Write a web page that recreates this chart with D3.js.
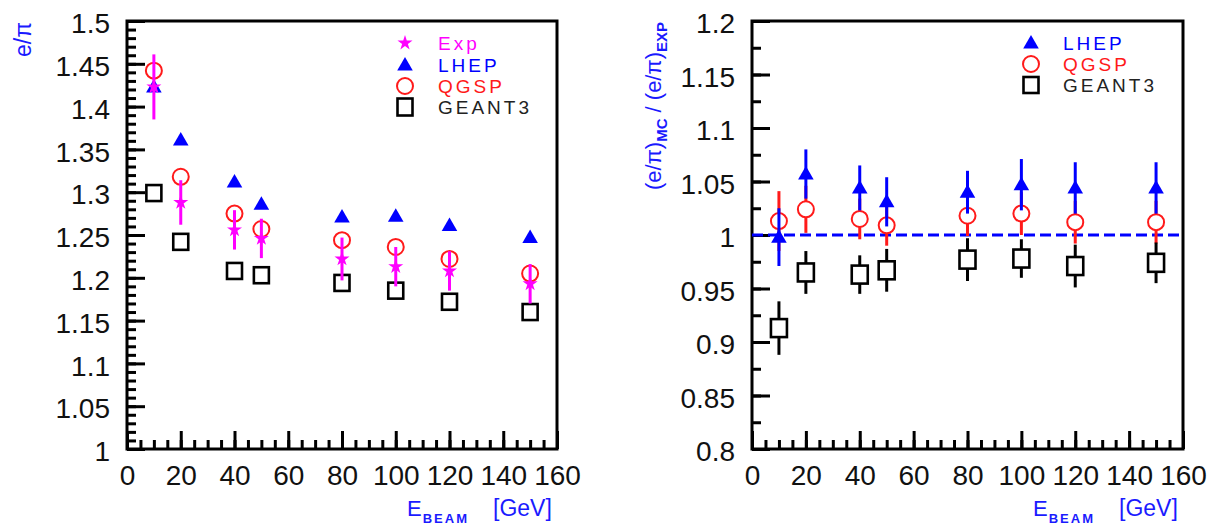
<!DOCTYPE html>
<html>
<head>
<meta charset="utf-8">
<script src="https://cdn.jsdelivr.net/npm/d3@7"></script>
<style>
  html, body { margin: 0; padding: 0; background: #fff; }
  svg { display: block; font-family: "Liberation Sans", Arial, Helvetica, sans-serif; }
</style>
</head>
<body>
<svg id="chart" width="1207" height="526"></svg>
<script>
// ---------------- data ----------------
const energies = [10, 20, 40, 50, 80, 100, 120, 150];

// left panel: e/pi
const expVals  = [1.423, 1.288, 1.256, 1.246, 1.222, 1.213, 1.208, 1.193];
const expErr   = [0.038, 0.026, 0.023, 0.023, 0.025, 0.023, 0.023, 0.023];
const lhepVals = [1.423, 1.361, 1.312, 1.286, 1.271, 1.272, 1.261, 1.247];
const qgspVals = [1.442, 1.318, 1.275, 1.257, 1.244, 1.236, 1.222, 1.205];
const g3Vals   = [1.299, 1.242, 1.208, 1.203, 1.194, 1.185, 1.172, 1.160];

// right panel: (e/pi)_MC / (e/pi)_EXP
const lhepRatio    = [0.998, 1.057, 1.044, 1.031, 1.040, 1.047, 1.044, 1.044];
const lhepRatioErr = [0.027, 0.023, 0.021, 0.023, 0.020, 0.024, 0.024, 0.024];
const qgspRatio    = [1.013, 1.024, 1.015, 1.009, 1.018, 1.020, 1.012, 1.012];
const qgspRatioErr = [0.028, 0.022, 0.019, 0.019, 0.019, 0.020, 0.020, 0.020];
const g3Ratio      = [0.913, 0.965, 0.963, 0.967, 0.977, 0.978, 0.971, 0.974];
const g3RatioErr   = [0.025, 0.020, 0.018, 0.020, 0.020, 0.018, 0.020, 0.019];

// ticks
const xTicks      = [0, 20, 40, 60, 80, 100, 120, 140, 160];
const yTicksLeft  = [1, 1.05, 1.1, 1.15, 1.2, 1.25, 1.3, 1.35, 1.4, 1.45, 1.5];
const yTicksRight = [0.8, 0.85, 0.9, 0.95, 1, 1.05, 1.1, 1.15, 1.2];

const legendLeft  = ["Exp", "LHEP", "QGSP", "GEANT3"];
const legendRight = ["LHEP", "QGSP", "GEANT3"];

// ---------------- style ----------------
const C = { exp: "#ff00ff", lhep: "#0000ff", qgsp: "#ff1a1a", g3: "#000000", label: "#1a1aff", text: "#111" };
const svg = d3.select("#chart");
const fmt = d => String(+d.toFixed(3));

function zip(xs, ys, es) { return xs.map((x, i) => ({ x, y: ys[i], e: es ? es[i] : 0 })); }

function drawFrame(x, y, yTicks, yMinor) {
  const [x0, x1] = x.range();
  const [y0, y1] = y.range();
  const g = svg.append("g");

  g.append("g").attr("transform", `translate(${x0},0)`)
    .call(d3.axisLeft(y).tickValues(yMinor).tickSize(-9).tickFormat(""));
  g.append("g").attr("class", "yMaj").attr("transform", `translate(${x0},0)`)
    .call(d3.axisLeft(y).tickValues(yTicks).tickSize(-18).tickPadding(17).tickFormat(fmt));
  g.append("g").attr("transform", `translate(0,${y0})`)
    .call(d3.axisBottom(x).tickValues(d3.range(0, 161, 5)).tickSize(-9).tickFormat(""));
  g.append("g").attr("transform", `translate(0,${y0})`)
    .call(d3.axisBottom(x).tickValues(xTicks).tickSize(-18).tickPadding(16).tickFormat(fmt));

  g.selectAll(".domain").remove();
  g.selectAll(".tick line").attr("stroke", "#000").attr("stroke-width", 3);
  g.selectAll(".tick text").attr("fill", C.text).style("font-size", "28px");
  g.selectAll(".yMaj .tick text").attr("dy", "0.42em");

  g.append("rect").attr("x", x0).attr("y", y1).attr("width", x1 - x0).attr("height", y0 - y1)
    .attr("fill", "none").attr("stroke", "#000").attr("stroke-width", 3);
  return g;
}

function drawXLabel(x) {
  const xr = x.range()[1];
  const t = svg.append("text").attr("x", xr - 150).attr("y", 516).attr("fill", C.label).style("font-size", "22px");
  t.append("tspan").text("E");
  t.append("tspan").attr("dy", 7).attr("dx", 1).style("font-size", "13px").style("font-weight", "bold")
    .style("letter-spacing", "2px").text("BEAM");
  t.append("tspan").attr("dy", -7).attr("x", xr - 64).style("font-size", "23px").text("[GeV]");
}

const starSym = d3.symbol().type(d3.symbolStar).size(70);
const triSym  = d3.symbol().type(d3.symbolTriangle).size(105);

function markers(g, data, x, y, kind, opt = {}) {
  const sel = g.selectAll(null).data(data).enter();
  if (kind === "star") {
    sel.append("path").attr("d", starSym).attr("fill", C.exp)
      .attr("transform", d => `translate(${x(d.x)},${y(d.y)})`);
  } else if (kind === "tri") {
    sel.append("path").attr("d", triSym).attr("fill", C.lhep)
      .attr("transform", d => `translate(${x(d.x)},${y(d.y) + 1})`);
  } else if (kind === "circ") {
    sel.append("circle").attr("cx", d => x(d.x)).attr("cy", d => y(d.y)).attr("r", 8)
      .attr("fill", "none").attr("stroke", C.qgsp).attr("stroke-width", 2);
  } else if (kind === "sq") {
    const w = opt.w || 15, h = opt.h || 17;
    sel.append("rect").attr("x", d => x(d.x) - w / 2).attr("y", d => y(d.y) - h / 2)
      .attr("width", w).attr("height", h)
      .attr("fill", "none").attr("stroke", C.g3).attr("stroke-width", 2.6);
  }
}

function errBars(g, data, x, y, color, gap) {
  const sel = g.selectAll(null).data(data).enter();
  sel.append("line").attr("x1", d => x(d.x)).attr("x2", d => x(d.x))
    .attr("y1", d => y(d.y + d.e)).attr("y2", d => Math.max(y(d.y + d.e), y(d.y) - gap))
    .attr("stroke", color).attr("stroke-width", 3);
  sel.append("line").attr("x1", d => x(d.x)).attr("x2", d => x(d.x))
    .attr("y1", d => Math.min(y(d.y - d.e), y(d.y) + gap)).attr("y2", d => y(d.y - d.e))
    .attr("stroke", color).attr("stroke-width", 3);
}

// ---------------- left panel ----------------
const xL = d3.scaleLinear().domain([0, 160]).range([127, 557]);
const yL = d3.scaleLinear().domain([1, 1.5]).range([449, 21]);
drawFrame(xL, yL, yTicksLeft, d3.range(1, 1.5001, 0.01));
drawXLabel(xL);

svg.append("text").attr("transform", "translate(31,57) rotate(-90)")
  .attr("fill", C.label).style("font-size", "23px").text("e/π");

const gL = svg.append("g");
markers(gL, zip(energies, lhepVals), xL, yL, "tri");
markers(gL, zip(energies, qgspVals), xL, yL, "circ");
markers(gL, zip(energies, g3Vals), xL, yL, "sq", { w: 15, h: 16 });
errBars(gL, zip(energies, expVals, expErr), xL, yL, C.exp, 0);
markers(gL, zip(energies, expVals), xL, yL, "star");

// left legend
const legL = svg.append("g");
const legColorsL = [C.exp, C.lhep, C.qgsp, "#222"];
const legKindsL = ["star", "tri", "circ", "sq"];
const legYL = [43, 65, 86, 107];
legendLeft.forEach((name, i) => {
  const fx = d3.scaleLinear().domain([0, 1]).range([405, 406]);
  const fy = d3.scaleLinear().domain([0, 1]).range([legYL[i], legYL[i] + 1]);
  markers(legL, [{ x: 0, y: 0 }], fx, fy, legKindsL[i], { w: 15, h: 17 });
  legL.append("text").attr("x", 438).attr("y", legYL[i]).attr("dy", "0.36em")
    .attr("fill", legColorsL[i]).style("font-size", "19px").style("letter-spacing", "3px").text(name);
});

// ---------------- right panel ----------------
const xR = d3.scaleLinear().domain([0, 160]).range([752, 1183]);
const yR = d3.scaleLinear().domain([0.8, 1.2]).range([449, 21]);
drawFrame(xR, yR, yTicksRight, d3.range(0.8, 1.2001, 0.025));
drawXLabel(xR);

const yl = svg.append("text").attr("transform", "translate(661,22) rotate(-90)")
  .attr("text-anchor", "end").attr("fill", C.label).style("font-size", "22px");
yl.append("tspan").text("(e/π)");
yl.append("tspan").attr("dy", 6).style("font-size", "15px").style("font-weight", "bold").text("MC");
yl.append("tspan").attr("dy", -6).text(" / (e/π)");
yl.append("tspan").attr("dy", 6).style("font-size", "15px").style("font-weight", "bold").text("EXP");

svg.append("line").attr("x1", xR(0)).attr("x2", xR(160)).attr("y1", yR(1)).attr("y2", yR(1))
  .attr("stroke", C.lhep).attr("stroke-width", 3).attr("stroke-dasharray", "11,5");

const gR = svg.append("g");
errBars(gR, zip(energies, qgspRatio, qgspRatioErr), xR, yR, C.qgsp, 8);
markers(gR, zip(energies, qgspRatio), xR, yR, "circ");
errBars(gR, zip(energies, lhepRatio, lhepRatioErr), xR, yR, C.lhep, 0);
markers(gR, zip(energies, lhepRatio), xR, yR, "tri");
errBars(gR, zip(energies, g3Ratio, g3RatioErr), xR, yR, C.g3, 9);
markers(gR, zip(energies, g3Ratio), xR, yR, "sq", { w: 16, h: 18 });

// right legend
const legR = svg.append("g");
const legColorsR = [C.lhep, C.qgsp, "#222"];
const legKindsR = ["tri", "circ", "sq"];
const legYR = [43, 64, 85];
legendRight.forEach((name, i) => {
  const fx = d3.scaleLinear().domain([0, 1]).range([1031, 1032]);
  const fy = d3.scaleLinear().domain([0, 1]).range([legYR[i], legYR[i] + 1]);
  markers(legR, [{ x: 0, y: 0 }], fx, fy, legKindsR[i], { w: 15, h: 16 });
  legR.append("text").attr("x", 1063).attr("y", legYR[i]).attr("dy", "0.36em")
    .attr("fill", legColorsR[i]).style("font-size", "19px").style("letter-spacing", "3px").text(name);
});
</script>
</body>
</html>
